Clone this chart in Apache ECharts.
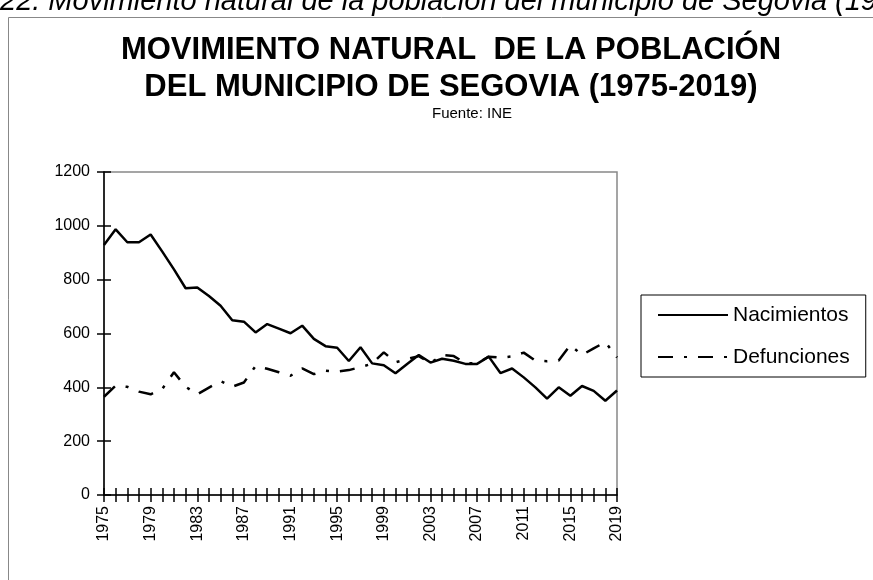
<!DOCTYPE html>
<html>
<head>
<meta charset="utf-8">
<script src="https://cdn.jsdelivr.net/npm/echarts@6/dist/echarts.min.js"></script>
<style>
  html, body { margin: 0; padding: 0; background: #fff; }
  #chart { width: 873px; height: 580px; }
</style>
</head>
<body>
<div id="chart"></div>
<script>
// años (categorías del eje X)
var years = ['1975', '1976', '1977', '1978', '1979', '1980', '1981', '1982', '1983', '1984',
  '1985', '1986', '1987', '1988', '1989', '1990', '1991', '1992', '1993', '1994',
  '1995', '1996', '1997', '1998', '1999', '2000', '2001', '2002', '2003', '2004',
  '2005', '2006', '2007', '2008', '2009', '2010', '2011', '2012', '2013', '2014',
  '2015', '2016', '2017', '2018', '2019']

// nacimientos por año
var nacimientos = [929, 987, 939, 939, 968, 904, 838, 768, 771, 739,
  703, 649, 644, 604, 635, 618, 601, 629, 580, 553,
  547, 498, 549, 489, 482, 452, 487, 520, 492, 506,
  499, 487, 487, 514, 453, 470, 437, 400, 358, 400,
  369, 405, 387, 350, 388]

// defunciones por año
var defunciones = [365, 406, 402, 384, 374, 394, 456, 402, 374, 399,
  423, 402, 418, 479, 469, 456, 443, 470, 449, 462,
  458, 464, 475, 488, 530, 493, 505, 516, 490, 520,
  516, 490, 489, 514, 510, 515, 529, 499, 497, 500,
  557, 520, 545, 568, 511]

var FONT = "'Liberation Sans', Arial, sans-serif"
var TICK = { color: '#000', width: 1.5 }

var chart = echarts.init(document.getElementById('chart'))

// ejes "vacíos" para los grids de marcas
function hiddenValueAxis (gridIndex) {
  return { type: 'value', gridIndex: gridIndex, min: 0, max: 1200, interval: 200, show: false }
}
function hiddenCategoryAxis (gridIndex) {
  return { type: 'category', gridIndex: gridIndex, data: years, boundaryGap: false, show: false }
}

chart.setOption({
  animation: false,
  backgroundColor: '#fff',
  title: [
    {
      text: 'MOVIMIENTO NATURAL  DE LA POBLACIÓN\nDEL MUNICIPIO DE SEGOVIA (1975-2019)',
      left: 451,
      top: 32,
      textAlign: 'center',
      padding: 0,
      textStyle: {
        fontFamily: FONT,
        fontWeight: 'bold',
        fontSize: 31,
        lineHeight: 37,
        color: '#000'
      }
    },
    {
      text: 'Fuente: INE',
      left: 472,
      top: 106,
      textAlign: 'center',
      padding: 0,
      textStyle: {
        fontFamily: FONT,
        fontWeight: 'normal',
        fontSize: 15,
        color: '#000'
      }
    }
  ],
  graphic: [
    {
      type: 'rect',
      shape: { x: 8.5, y: 17.5, width: 1000, height: 1000 },
      style: { fill: null, stroke: '#888', lineWidth: 1 },
      silent: true
    },
    {
      type: 'text',
      x: 0,
      y: 2,
      style: {
        text: '22. Movimiento natural de la población del municipio de Segovia (1975-2019)',
        font: 'italic 29px ' + FONT,
        fill: '#000',
        verticalAlign: 'middle'
      },
      silent: true
    }
  ],
  legend: {
    orient: 'vertical',
    left: 641,
    top: 295,
    padding: [8, 16, 8, 16],
    itemWidth: 70,
    itemHeight: 14,
    itemGap: 18,
    borderColor: '#000',
    borderWidth: 1,
    itemStyle: { opacity: 0 },
    textStyle: {
      fontFamily: FONT,
      fontSize: 21,
      lineHeight: 24,
      color: '#000'
    },
    data: ['Nacimientos', 'Defunciones']
  },
  grid: [
    // gráfico principal
    { left: 104, right: 256, top: 172, bottom: 85, show: true, borderColor: '#888', borderWidth: 1.5 },
    // franja estrecha sobre el eje Y: sus splitLine hacen de marcas que cruzan el eje
    { left: 97, width: 14, top: 172, bottom: 85 },
    // franja estrecha sobre el eje X
    { left: 104, right: 256, top: 488, height: 14 }
  ],
  xAxis: [
    {
      type: 'category',
      gridIndex: 0,
      data: years,
      boundaryGap: false,
      axisLine: { onZero: false, lineStyle: TICK },
      axisTick: { show: false },
      axisLabel: {
        interval: 3,
        rotate: 90,
        margin: 11,
        color: '#000',
        fontSize: 16,
        fontFamily: FONT
      },
      splitLine: { show: false }
    },
    hiddenCategoryAxis(1),
    {
      type: 'category',
      gridIndex: 2,
      data: years,
      boundaryGap: false,
      axisLine: { show: false },
      axisTick: { show: false },
      axisLabel: { show: false },
      splitLine: { show: true, interval: 0, lineStyle: TICK }
    }
  ],
  yAxis: [
    {
      type: 'value',
      gridIndex: 0,
      min: 0,
      max: 1200,
      interval: 200,
      axisLine: { show: true, onZero: false, lineStyle: TICK },
      axisTick: { show: false },
      axisLabel: {
        margin: 14,
        color: '#000',
        fontSize: 16,
        fontFamily: FONT,
        formatter: function (v) { return String(v) }
      },
      splitLine: { show: false }
    },
    {
      type: 'value',
      gridIndex: 1,
      min: 0,
      max: 1200,
      interval: 200,
      axisLine: { show: false },
      axisTick: { show: false },
      axisLabel: { show: false },
      splitLine: { show: true, lineStyle: TICK }
    },
    hiddenValueAxis(2)
  ],
  series: [
    {
      name: 'Nacimientos',
      type: 'line',
      data: nacimientos,
      symbol: 'none',
      color: '#000',
      z: 5,
      lineStyle: { color: '#000', width: 2.5, type: 'solid' }
    },
    {
      name: 'Defunciones',
      type: 'line',
      data: defunciones,
      symbol: 'none',
      color: '#000',
      z: 5,
      lineStyle: { color: '#000', width: 2.5, type: [15, 11, 3, 11] }
    },
    // series invisibles que sólo activan los ejes de las franjas de marcas
    {
      name: 'marcasY',
      type: 'line',
      xAxisIndex: 1,
      yAxisIndex: 1,
      data: nacimientos,
      symbol: 'none',
      silent: true,
      lineStyle: { opacity: 0 }
    },
    {
      name: 'marcasX',
      type: 'line',
      xAxisIndex: 2,
      yAxisIndex: 2,
      data: nacimientos,
      symbol: 'none',
      silent: true,
      lineStyle: { opacity: 0 }
    }
  ]
})
</script>
</body>
</html>
